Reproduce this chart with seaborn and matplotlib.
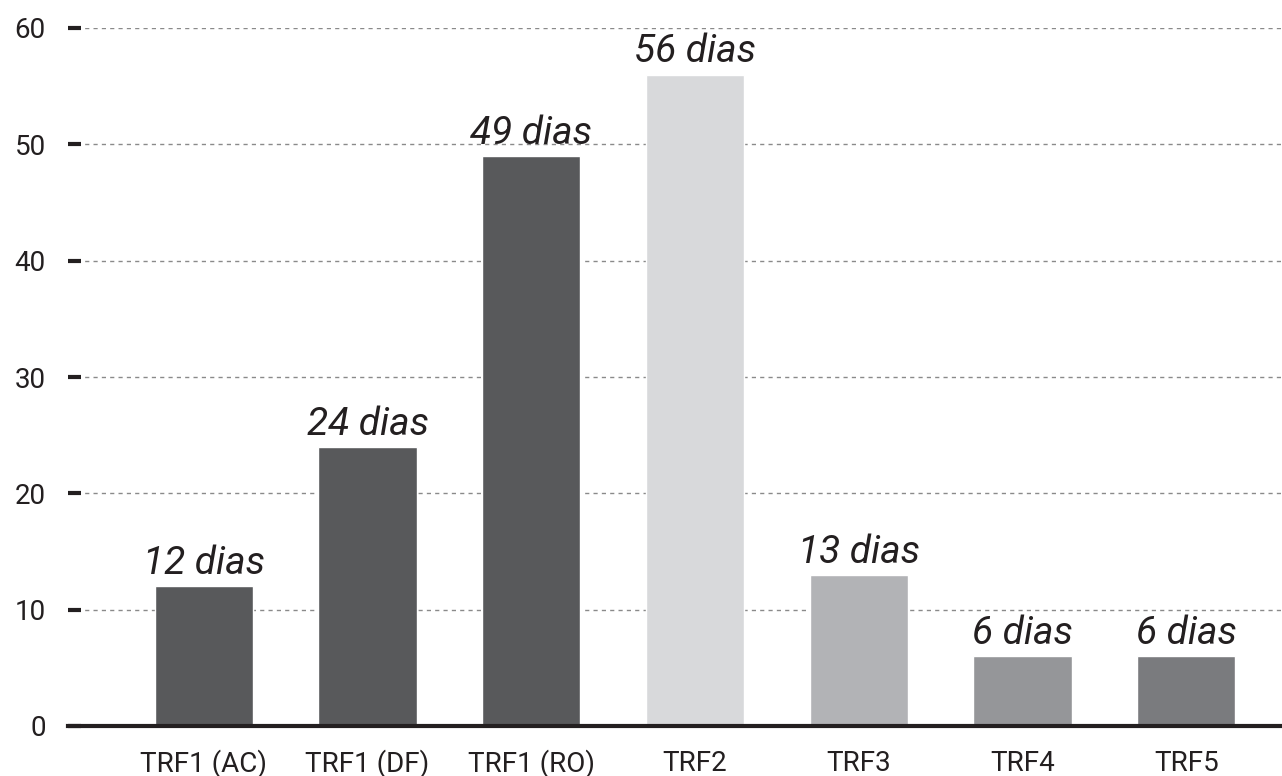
import matplotlib
matplotlib.use("Agg")
import matplotlib.pyplot as plt
import seaborn as sns
import pandas as pd

categories = ["TRF1 (AC)", "TRF1 (DF)", "TRF1 (RO)", "TRF2", "TRF3", "TRF4", "TRF5"]
values = [12, 24, 49, 56, 13, 6, 6]
labels = ["12 dias", "24 dias", "49 dias", "56 dias", "13 dias", "6 dias", "6 dias"]
colors = ["#58595b", "#58595b", "#58595b", "#d8d9db", "#b2b3b6", "#959699", "#7a7b7e"]
yticks = [0, 10, 20, 30, 40, 50, 60]

sns.set_theme(style="white")
plt.rcParams["font.family"] = ["Roboto", "DejaVu Sans"]

df = pd.DataFrame({"cat": categories, "val": values})

fig = plt.figure(figsize=(12.82, 7.76), dpi=100)
ax = fig.add_axes([68 / 1282, 1 - 726 / 776, 1 - 68 / 1282, (726 - 28) / 776])

sns.barplot(data=df, x="cat", y="val", hue="cat", palette=colors, dodge=False,
            width=0.6, legend=False, ax=ax, saturation=1)

ax.set_ylim(0, 60)
ax.set_xlim(-0.83, 6.585)
ax.set_yticks(yticks)
ax.set_yticklabels([str(t) for t in yticks], fontsize=20, color="#231f20")
ax.set_xlabel("")
ax.set_ylabel("")
ax.tick_params(axis="x", length=0, labelsize=20, labelcolor="#231f20", pad=17)
ax.tick_params(axis="y", direction="in", length=9, width=3, color="#231f20", pad=16, left=True)

ax.yaxis.grid(True, linestyle=(0, (3, 3)), color="#8a8a8a", linewidth=1)
ax.set_axisbelow(True)
for s in ["top", "right", "left"]:
    ax.spines[s].set_visible(False)
ax.spines["bottom"].set_linewidth(3)
ax.spines["bottom"].set_color("#231f20")

bars = [b for c in ax.containers for b in c]
for bar, lab in zip(bars, labels):
    ax.annotate(lab, (bar.get_x() + bar.get_width() / 2, bar.get_height()),
                xytext=(0, 3), textcoords="offset points", ha="center", va="bottom",
                fontsize=28, style="italic", color="#231f20")

fig.savefig("out.png", dpi=100)
